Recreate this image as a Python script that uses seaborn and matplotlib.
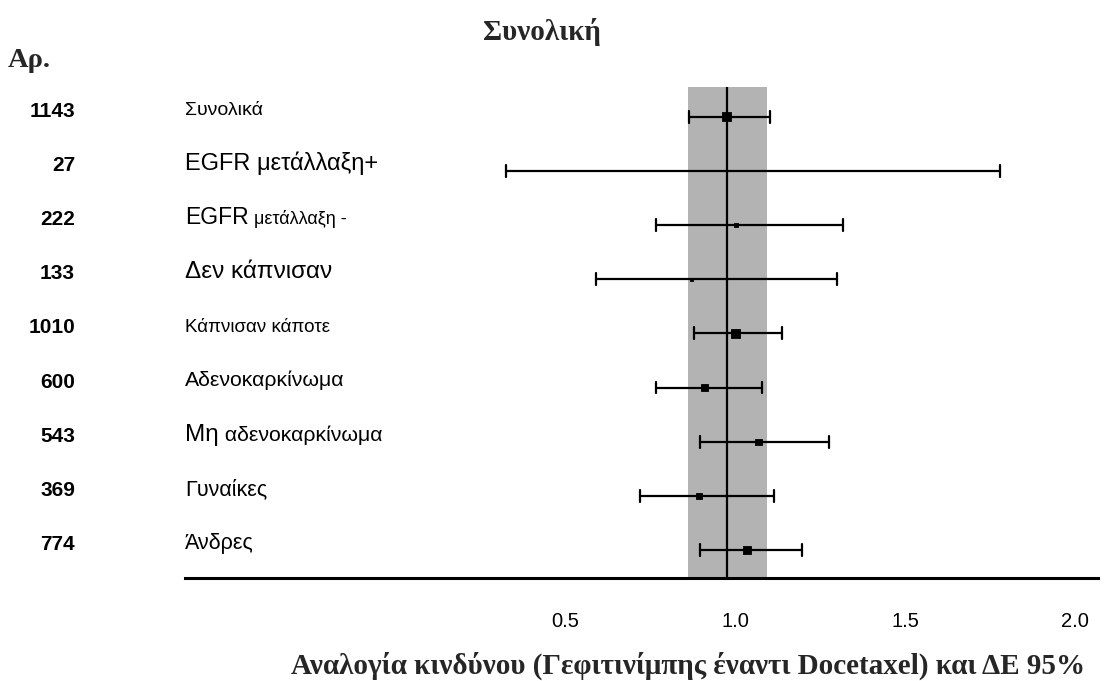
import numpy as np
import pandas as pd
import matplotlib
matplotlib.use("Agg")
import matplotlib.pyplot as plt
import matplotlib.transforms as mtransforms
import seaborn as sns

# dades del forest plot (llegides de la imatge)
labels = ["Συνολικά", "EGFR μετάλλαξη+", "EGFR μετάλλαξη -", "Δεν κάπνισαν",
          "Κάπνισαν κάποτε", "Αδενοκαρκίνωμα", "Μη αδενοκαρκίνωμα",
          "Γυναίκες", "Άνδρες"]
counts = [1143, 27, 222, 133, 1010, 600, 543, 369, 774]
hr = [0.976, 0.76, 1.003, 0.871, 1.001, 0.910, 1.069, 0.894, 1.036]
ci_lo = [0.864, 0.326, 0.768, 0.591, 0.879, 0.768, 0.898, 0.721, 0.898]
ci_hi = [1.104, 1.780, 1.319, 1.299, 1.139, 1.079, 1.276, 1.116, 1.198]
band = [0.861, 1.095]
xticks = [0.5, 1.0, 1.5, 2.0]

title = "Συνολική"
n_header = "Αρ."
xlabel = "Αναλογία κινδύνου (Γεφιτινίμπης έναντι Docetaxel) και ΔΕ 95%"

sns.set_theme(style="white")
plt.rcParams["font.family"] = ["Liberation Sans", "DejaVu Sans"]

W, H = 1104, 681
fig = plt.figure(figsize=(W / 100, H / 100), dpi=100)
ax = fig.add_axes([185 / W, (H - 578.3) / H, (1098 - 185) / W, (578.3 - 87.3) / H])

df = pd.DataFrame({"label": labels, "n": counts, "hr": hr, "lo": ci_lo, "hi": ci_hi})
df["pos"] = np.arange(len(df))
long = df.melt(id_vars=["label", "n"], value_vars=["lo", "hr", "hi"], value_name="value")

# banda gris = IC global, línia vertical = HR global
ax.axvspan(band[0], band[1], color="#b3b3b3", lw=0, zorder=0)
ax.axvline(hr[0], color="black", lw=1.6, zorder=1)

# intervals (mediana = HR, interval 0-100% = IC)
sns.pointplot(data=long, x="value", y="label", order=labels, estimator="median",
              errorbar=("pi", 100), capsize=0.22, linestyle="none", marker="",
              color="black", err_kws={"linewidth": 1.6}, ax=ax, zorder=2)

# quadrats amb mida segons n
sns.scatterplot(data=df, x="hr", y="pos", size="n", sizes=(1, 45), size_norm=(27, 1143),
                marker="s", color="black", edgecolor="black", linewidth=0.6,
                legend=False, ax=ax, zorder=3)

ax.set_xlim((185 - 395) / 340, (1098 - 395) / 340)
ax.set_ylim(len(labels) - 1 + 0.52, -0.54)
ax.set_xticks(xticks)
ax.set_xticklabels([f"{t:.1f}" for t in xticks])
ax.tick_params(axis="x", length=0, pad=24, labelsize=14.5, colors="black")
ax.set_yticks([])
ax.set_xlabel("")
ax.set_ylabel("")
for s in ["top", "right", "left"]:
    ax.spines[s].set_visible(False)
ax.spines["bottom"].set_color("black")
ax.spines["bottom"].set_linewidth(2.2)
ax.set_facecolor("none")

# textos de l'esquerra
tr = mtransforms.blended_transform_factory(fig.transFigure, ax.transData)
renderer = fig.canvas.get_renderer()

label_parts = [
    [("Συνολικά", 14)],
    [("EGFR μετάλλαξη+", 17)],
    [("EGFR", 16.5), (" μετάλλαξη -", 13)],
    [("Δεν κάπνισαν", 17.5)],
    [("Κάπνισαν κάποτε", 13.5)],
    [("Αδενοκαρκίνωμα", 15.3)],
    [("Μη", 17.5), (" αδενοκαρκίνωμα", 15.3)],
    [("Γυναίκες", 15.5)],
    [("Άνδρες", 15.5)],
]

for i, parts in enumerate(label_parts):
    fig.text(75 / W, i, str(counts[i]), transform=tr, ha="right", va="baseline",
             fontsize=15, fontweight="bold", color="black")
    x0 = 185 / W
    for txt, fs in parts:
        t = fig.text(x0, i - 0.02, txt, transform=tr, ha="left", va="baseline",
                     fontsize=fs, color="black")
        bb = t.get_window_extent(renderer)
        x0 = bb.x1 / fig.bbox.width

serif = ["Liberation Serif", "DejaVu Serif"]
fig.text(542 / W, 1 - 40 / H, title, ha="center", va="baseline", family=serif,
         fontsize=21, fontweight="bold")
fig.text(8 / W, 1 - 66.7 / H, n_header, ha="left", va="baseline", family=serif,
         fontsize=20.5, fontweight="bold")
fig.text(688 / W, 1 - 674 / H, xlabel, ha="center", va="baseline", family=serif,
         fontsize=21, fontweight="bold")

fig.savefig("out.png", dpi=100, facecolor="white")
